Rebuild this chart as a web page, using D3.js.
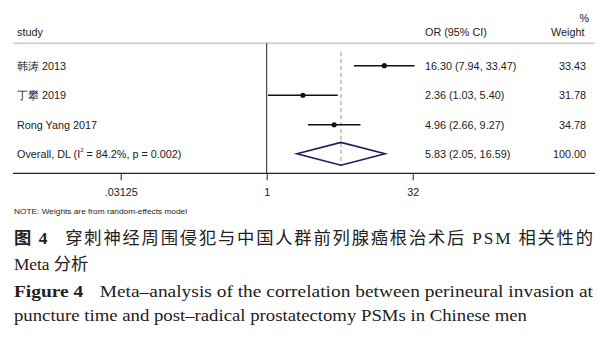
<!DOCTYPE html>
<html>
<head>
<meta charset="utf-8">
<script src="https://cdn.jsdelivr.net/npm/d3@7/dist/d3.min.js"></script>
<style>
  html, body { margin: 0; padding: 0; background: #fff; }
  svg { display: block; }
  .plot text { font-family: "Liberation Sans", Arial, sans-serif; fill: #222; }
  .cap { font-family: "Liberation Serif", "Noto Sans CJK SC", serif; fill: #222; }
</style>
</head>
<body>
<svg id="chart" width="613" height="337"></svg>
<script>
// Study-level estimates (odds ratios with 95% CI) and random-effects weights
const studies  = ["韩涛 2013", "丁攀 2019", "Rong Yang 2017"];
const orValues = [16.30, 2.36, 4.96];
const ciLower  = [7.94, 1.03, 2.66];
const ciUpper  = [33.47, 5.40, 9.27];
const weights  = [33.43, 31.78, 34.78];

// Pooled DerSimonian–Laird estimate
const overallLabel = ["Overall, DL (I", "2", " = 84.2%, p = 0.002)"];
const overallOR    = [5.83];
const overallCI    = [2.05, 16.59];
const overallWeight = [100.00];

// Axis ticks on the log2 scale
const tickValues = [1 / 32, 1, 32];
const tickLabels = [".03125", "1", "32"];

const svg = d3.select("#chart");
const g = svg.append("g").attr("class", "plot");

const x = d3.scaleLog().base(2).domain([1 / 32, 32]).range([120.7, 412.7]);
const y = d3.scalePoint().domain(d3.range(studies.length + 1)).range([65.7, 154.3]);

const left = 13, right = 595, headerY = 43.3, axisY = 173.3;
const fmt2 = d3.format(".2f");
const ciText = (o, l, u) => `${fmt2(o)} (${fmt2(l)}, ${fmt2(u)})`;

// Header
g.append("text").attr("x", 17).attr("y", 35.5).attr("font-size", 10.8).text("study");
g.append("text").attr("x", 425).attr("y", 35.5).attr("font-size", 10.8).text("OR (95% CI)");
g.append("text").attr("x", 589).attr("y", 21.5).attr("font-size", 10.8).attr("text-anchor", "end").text("%");
g.append("text").attr("x", 584.5).attr("y", 35.5).attr("font-size", 10.8).attr("text-anchor", "end").text("Weight");

g.append("line").attr("x1", left).attr("x2", right).attr("y1", headerY).attr("y2", headerY)
  .attr("stroke", "#d4d4d4").attr("stroke-width", 2);

// Null line at OR = 1
g.append("line").attr("x1", x(1)).attr("x2", x(1)).attr("y1", headerY).attr("y2", axisY)
  .attr("stroke", "#222").attr("stroke-width", 1);

// Dashed line at pooled estimate
g.append("line").attr("x1", x(overallOR[0])).attr("x2", x(overallOR[0]))
  .attr("y1", 52).attr("y2", y(3) + 12)
  .attr("stroke", "#b98693").attr("stroke-width", 1).attr("stroke-dasharray", "4,3");

// Study rows
const rows = g.selectAll(".row").data(studies).join("g").attr("class", "row");
rows.append("line")
  .attr("x1", (d, i) => x(ciLower[i])).attr("x2", (d, i) => x(ciUpper[i]))
  .attr("y1", (d, i) => y(i)).attr("y2", (d, i) => y(i))
  .attr("stroke", "#111").attr("stroke-width", 1.5);
rows.append("circle")
  .attr("cx", (d, i) => x(orValues[i])).attr("cy", (d, i) => y(i)).attr("r", 2.6)
  .attr("fill", "#111");
rows.append("text").attr("x", 17).attr("y", (d, i) => y(i) + 4).attr("font-size", 10.8).text(d => d);
rows.append("text").attr("x", 425).attr("y", (d, i) => y(i) + 4).attr("font-size", 10.8)
  .text((d, i) => ciText(orValues[i], ciLower[i], ciUpper[i]));
rows.append("text").attr("x", 586).attr("y", (d, i) => y(i) + 4).attr("font-size", 10.8)
  .attr("text-anchor", "end").text((d, i) => fmt2(weights[i]));

// Overall row
const oy = y(3) - 0.5, half = 11.4;
g.append("path")
  .attr("d", `M${x(overallCI[0])},${oy} L${x(overallOR[0])},${oy - half} L${x(overallCI[1])},${oy} L${x(overallOR[0])},${oy + half} Z`)
  .attr("fill", "none").attr("stroke", "#1c1c5a").attr("stroke-width", 1.6);
const ot = g.append("text").attr("x", 17).attr("y", oy + 4).attr("font-size", 10.8);
ot.append("tspan").text(overallLabel[0]);
ot.append("tspan").attr("font-size", 6).attr("dy", -5.5).text(overallLabel[1]);
ot.append("tspan").attr("dy", 5.5).text(overallLabel[2]);
g.append("text").attr("x", 425).attr("y", oy + 4).attr("font-size", 10.8)
  .text(ciText(overallOR[0], overallCI[0], overallCI[1]));
g.append("text").attr("x", 586).attr("y", oy + 4).attr("font-size", 10.8)
  .attr("text-anchor", "end").text(fmt2(overallWeight[0]));

// X axis
g.append("line").attr("x1", left).attr("x2", right).attr("y1", axisY).attr("y2", axisY)
  .attr("stroke", "#222").attr("stroke-width", 1.2);
const axis = g.append("g").attr("transform", `translate(0,${axisY})`)
  .call(d3.axisBottom(x).tickValues(tickValues).tickSize(7)
    .tickFormat((d, i) => tickLabels[i]));
axis.select(".domain").remove();
axis.selectAll(".tick line").attr("stroke", "#222");
axis.selectAll(".tick text").attr("font-size", 10.8).attr("dy", 0).attr("y", 22.7)
  .attr("font-family", "Liberation Sans, Arial, sans-serif").attr("fill", "#222");

g.append("text").attr("x", 14).attr("y", 213.5).attr("font-size", 7.4)
  .attr("textLength", 173).attr("lengthAdjust", "spacingAndGlyphs")
  .text("NOTE: Weights are from random-effects model");

// Figure caption
const cap = svg.append("g").attr("class", "cap");
const l1 = cap.append("text").attr("x", 14).attr("y", 243.5).attr("font-size", 17.3)
  .attr("textLength", 579).attr("lengthAdjust", "spacing");
l1.append("tspan").attr("font-weight", "bold").attr("font-family", "Noto Sans CJK SC").text("图 ");
l1.append("tspan").attr("font-weight", "bold").text("4");
l1.append("tspan").attr("dx", 16).attr("font-family", "Noto Sans CJK SC")
  .text("穿刺神经周围侵犯与中国人群前列腺癌根治术后");
l1.append("tspan").text(" PSM ");
l1.append("tspan").attr("font-family", "Noto Sans CJK SC").text("相关性的");

const l2 = cap.append("text").attr("x", 14).attr("y", 269.5).attr("font-size", 17.3);
l2.append("tspan").text("Meta ");
l2.append("tspan").attr("font-family", "Noto Sans CJK SC").text("分析");

const l3 = cap.append("text").attr("x", 14).attr("y", 296.5).attr("font-size", 16.5)
  .attr("textLength", 579).attr("lengthAdjust", "spacingAndGlyphs");
l3.append("tspan").attr("font-weight", "bold").text("Figure 4");
l3.append("tspan").attr("dx", 14).text("Meta\u2013analysis of the correlation between perineural invasion at");

cap.append("text").attr("x", 14).attr("y", 320.5).attr("font-size", 16.5)
  .attr("textLength", 513).attr("lengthAdjust", "spacingAndGlyphs")
  .text("puncture time and post\u2013radical prostatectomy PSMs in Chinese men");
</script>
</body>
</html>
